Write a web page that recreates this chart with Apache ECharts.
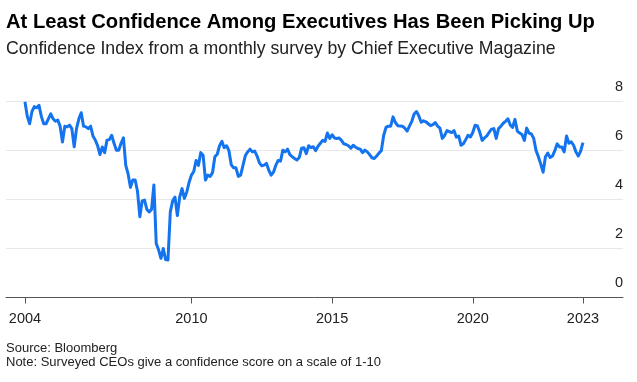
<!DOCTYPE html>
<html>
<head>
<meta charset="utf-8">
<script src="https://cdn.jsdelivr.net/npm/echarts@6/dist/echarts.min.js"></script>
<style>
  html, body { margin: 0; padding: 0; background: #fff; }
  #chart { width: 637px; height: 382px; }
</style>
</head>
<body>
<div id="chart"></div>
<script>
// Monthly survey, Feb 2004 .. Dec 2023
const startYear = 2004;
const startMonth = 2;
const values2004 = [8.0, 7.4, 7.1, 7.6, 7.8, 7.75, 7.85, 7.4, 7.1, 7.1, 7.3];
const values2005 = [7.5, 7.3, 7.2, 7.25, 7.0, 6.35, 7.0, 6.97, 7.04, 6.9, 6.16, 6.9];
const values2006 = [7.3, 7.55, 7.0, 6.97, 6.9, 7.0, 6.6, 6.43, 6.2, 5.84, 6.15, 5.92];
const values2007 = [6.43, 6.45, 6.63, 6.3, 6.02, 6.02, 6.3, 6.52, 5.4, 5.05, 4.5, 4.8];
const values2008 = [4.8, 4.35, 3.3, 3.95, 3.98, 3.6, 3.5, 3.6, 4.6, 2.2, 1.95, 1.6];
const values2009 = [2.0, 1.55, 1.53, 3.5, 3.95, 4.1, 3.35, 4.1, 4.45, 4.05, 4.3, 4.7];
const values2010 = [5.0, 5.15, 5.6, 5.4, 5.92, 5.8, 4.8, 5.0, 4.95, 5.1, 5.75, 5.85];
const values2011 = [6.2, 6.38, 6.12, 6.2, 6.0, 5.42, 5.3, 5.3, 4.95, 5.0, 5.4, 5.8];
const values2012 = [5.95, 6.06, 5.95, 5.98, 5.78, 5.5, 5.38, 5.41, 5.48, 5.2, 5.0, 5.12];
const values2013 = [5.4, 5.6, 5.57, 6.02, 5.95, 6.06, 5.84, 5.75, 5.68, 5.62, 5.72, 6.1];
const values2014 = [6.12, 5.88, 6.2, 6.12, 6.16, 6.0, 6.18, 6.3, 6.42, 6.38, 6.72, 6.5];
const values2015 = [6.65, 6.52, 6.5, 6.52, 6.42, 6.28, 6.25, 6.2, 6.1, 6.22, 6.14, 6.09];
const values2016 = [6.06, 5.92, 6.02, 5.95, 5.84, 5.71, 5.68, 5.78, 5.9, 6.0, 6.62, 6.95];
const values2017 = [7.0, 7.0, 7.38, 7.15, 7.02, 7.01, 7.0, 6.92, 6.8, 7.0, 7.2, 7.5];
const values2018 = [7.6, 7.42, 7.16, 7.22, 7.18, 7.1, 7.02, 7.06, 7.15, 7.0, 6.92, 6.5];
const values2019 = [6.62, 6.82, 6.78, 6.74, 6.82, 6.55, 6.6, 6.22, 6.28, 6.45, 6.63, 6.56];
const values2020 = [6.74, 7.04, 7.01, 6.75, 6.42, 6.52, 6.6, 6.75, 6.88, 6.9, 6.5, 6.9];
const values2021 = [7.0, 7.12, 7.2, 7.3, 7.05, 6.95, 7.28, 6.8, 6.72, 6.66, 6.42, 6.92];
const values2022 = [6.72, 6.68, 6.5, 6.0, 5.75, 5.45, 5.12, 5.75, 5.9, 5.72, 5.78, 6.0];
const values2023 = [6.28, 6.15, 6.15, 5.95, 6.6, 6.3, 6.36, 6.22, 5.95, 5.78, 5.98, 6.33];

const tickMonths = ["2004-02", "2010-01", "2015-01", "2020-01", "2023-12"];
const tickLabels = ["2004", "2010", "2015", "2020", "2023"];
const yTicks = [0, 2, 4, 6, 8];

const titleText = "At Least Confidence Among Executives Has Been Picking Up";
const subtitleText = "Confidence Index from a monthly survey by Chief Executive Magazine";
const sourceText = "Source: Bloomberg";
const noteText = "Note: Surveyed CEOs give a confidence score on a scale of 1-10";

const values = [].concat(values2004, values2005, values2006, values2007, values2008,
  values2009, values2010, values2011, values2012, values2013, values2014, values2015,
  values2016, values2017, values2018, values2019, values2020, values2021, values2022, values2023);

function monthToYear(str) {
  const p = str.split('-');
  return Number(p[0]) + (Number(p[1]) - 1) / 12;
}
const data = values.map(function (v, i) {
  const m = startMonth - 1 + i;
  const yr = startYear + Math.floor(m / 12);
  const mo = (m % 12) + 1;
  return [yr + (mo - 1) / 12, v];
});
const tickPos = tickMonths.map(monthToYear);

const FONT = "'Liberation Sans', Arial, Helvetica, sans-serif";
const chart = echarts.init(document.getElementById('chart'), null, { renderer: 'canvas' });
chart.setOption({
  animation: false,
  backgroundColor: '#ffffff',
  title: [
    { text: titleText, left: 6, top: 12, padding: 0,
      textStyle: { fontFamily: FONT, fontSize: 20.2, fontWeight: 'bold', color: '#000' } },
    { text: subtitleText, left: 6, top: 40, padding: 0,
      textStyle: { fontFamily: FONT, fontSize: 17.7, fontWeight: 'normal', color: '#222' } },
    { text: sourceText, left: 6, top: 342, padding: 0,
      textStyle: { fontFamily: FONT, fontSize: 13, fontWeight: 'normal', color: '#222' } },
    { text: noteText, left: 6, top: 356, padding: 0,
      textStyle: { fontFamily: FONT, fontSize: 13, fontWeight: 'normal', color: '#222' } }
  ],
  grid: { left: 6, right: 14, top: 101.7, bottom: 84.5, containLabel: false },
  xAxis: {
    type: 'value',
    min: 2003.41,
    max: 2025.34,
    axisLine: { show: true, lineStyle: { color: '#555', width: 1 } },
    axisTick: { show: true, customValues: tickPos, length: 6, lineStyle: { color: '#555' } },
    axisLabel: {
      customValues: tickPos,
      margin: 14,
      fontFamily: FONT, fontSize: 14.5, color: '#222',
      formatter: function (v) {
        let best = 0;
        tickPos.forEach(function (t, k) { if (Math.abs(t - v) < Math.abs(tickPos[best] - v)) best = k; });
        return tickLabels[best];
      }
    },
    splitLine: { show: false }
  },
  yAxis: {
    type: 'value',
    position: 'right',
    min: yTicks[0],
    max: yTicks[yTicks.length - 1],
    interval: 2,
    axisLine: { show: false },
    axisTick: { show: false },
    axisLabel: {
      inside: true, margin: 0, align: 'right', verticalAlign: 'bottom',
      padding: [0, 0, 7, 0],
      fontFamily: FONT, fontSize: 14.5, color: '#222'
    },
    splitLine: { show: true, lineStyle: { color: '#e8e8e8', width: 1.2 } }
  },
  series: [{
    type: 'line',
    data: data,
    showSymbol: false,
    symbol: 'none',
    lineStyle: { color: '#1473ee', width: 3, join: 'round' },
    z: 5
  }]
});
</script>
</body>
</html>
